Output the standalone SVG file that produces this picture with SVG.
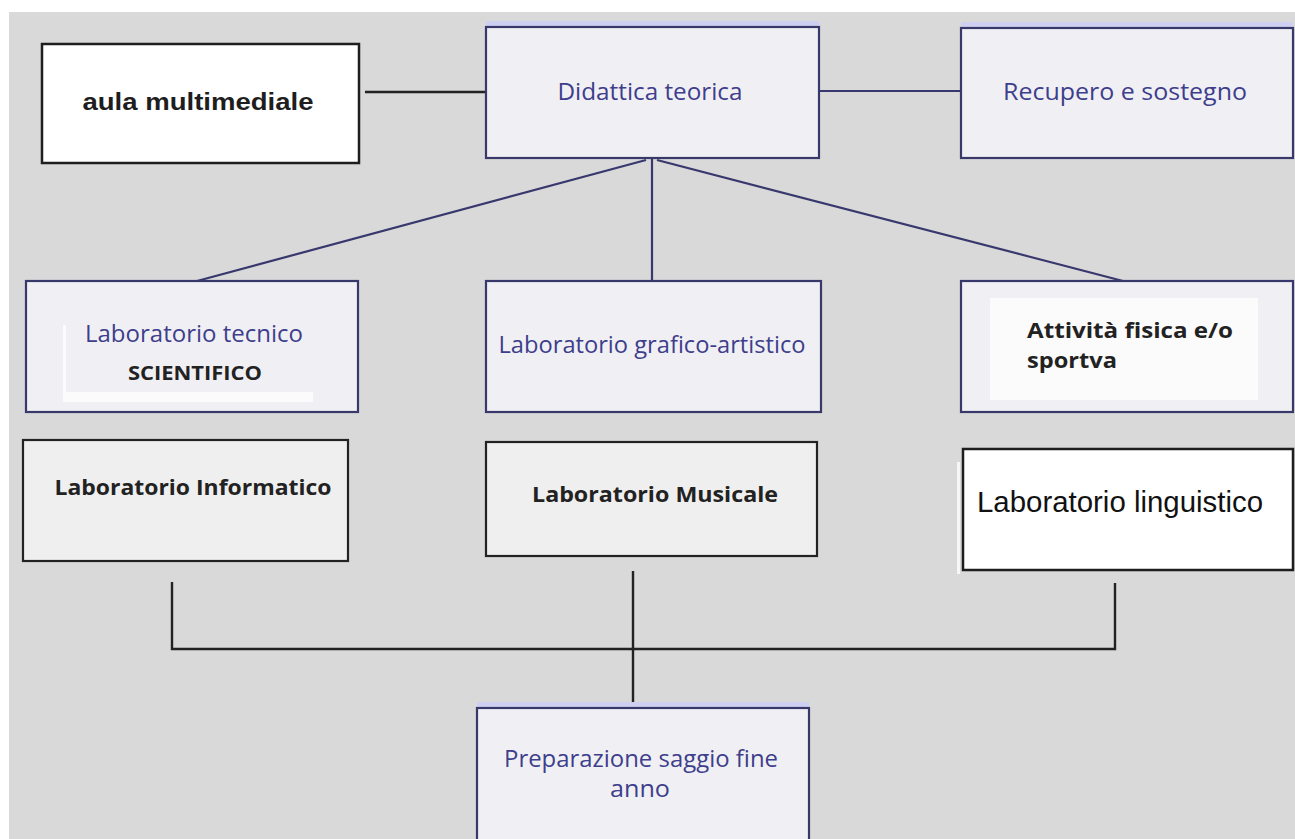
<svg xmlns="http://www.w3.org/2000/svg" width="1295" height="839" viewBox="0 0 1295 839">
<style>
.bg{fill:#d9d9d9}
.bn{fill:#f0f0f4;stroke:#38386a;stroke-width:2.2}
.glow{fill:none;stroke:#cfcff2;stroke-width:6}
.bk{fill:#efefef;stroke:#222;stroke-width:2.2}
.bw{fill:#fff;stroke:#1e1e1e;stroke-width:2.5}
.tb{font-family:"Open Sans","DejaVu Sans",sans-serif;font-size:24px;fill:#3e3e8c;text-anchor:middle}
.td{font-family:"Open Sans","DejaVu Sans",sans-serif;font-weight:bold;font-size:21px;fill:#222;text-anchor:middle}
.tds{font-family:"Open Sans","DejaVu Sans",sans-serif;font-weight:bold;font-size:22px;fill:#222;text-anchor:start}
.tsc{font-family:"Open Sans","DejaVu Sans",sans-serif;font-weight:bold;font-size:19px;fill:#222;text-anchor:middle}
.ta{font-family:"Liberation Sans",Arial,sans-serif;font-weight:bold;font-size:23px;fill:#1e1e1e;text-anchor:middle}
.tn{font-family:"Liberation Sans",Arial,sans-serif;font-size:30px;fill:#111;text-anchor:middle}
.cn{fill:none;stroke:#38386e;stroke-width:2.2}
.ck{fill:none;stroke:#222;stroke-width:2.4}
</style>
<rect x="0" y="0" width="1295" height="839" fill="#fff"/>
<rect class="bg" x="9" y="12" width="1286" height="827"/>
<g id="connectors">
<line class="ck" x1="365" y1="92" x2="486" y2="92"/>
<line class="cn" x1="819" y1="91" x2="961" y2="91"/>
<line class="cn" x1="646" y1="160" x2="197" y2="281"/>
<line class="cn" x1="652" y1="158" x2="652" y2="281"/>
<line class="cn" x1="657" y1="160" x2="1123" y2="281"/>
<polyline class="ck" points="172,582 172,649 1115,649 1115,583"/>
<line class="ck" x1="633" y1="571" x2="633" y2="708"/>
</g>
<g id="aula">
<rect class="bw" x="42" y="44" width="317" height="119"/>
<text class="ta" x="198" y="110" textLength="231" lengthAdjust="spacingAndGlyphs">aula multimediale</text>
</g>
<g id="didattica">
<line class="glow" x1="486" y1="24" x2="819" y2="24"/>
<rect class="bn" x="486" y="27" width="333" height="131"/>
<text class="tb" x="650" y="100" textLength="185" lengthAdjust="spacingAndGlyphs">Didattica teorica</text>
</g>
<g id="recupero">
<line class="glow" x1="961" y1="25" x2="1293" y2="25"/>
<rect class="bn" x="961" y="28" width="332" height="130"/>
<text class="tb" x="1125" y="100" textLength="244" lengthAdjust="spacingAndGlyphs">Recupero e sostegno</text>
</g>
<g id="lab-tecnico">
<rect class="bn" x="26" y="281" width="332" height="131"/>
<rect x="63" y="392" width="250" height="10" fill="#fbfbfb"/>
<rect x="63" y="325" width="3" height="77" fill="#fbfbfb"/>
<text class="tb" x="194" y="342" textLength="218" lengthAdjust="spacingAndGlyphs">Laboratorio tecnico</text>
<text class="tsc" x="195" y="380" textLength="134" lengthAdjust="spacingAndGlyphs">SCIENTIFICO</text>
</g>
<g id="lab-grafico">
<rect class="bn" x="486" y="281" width="335" height="131"/>
<text class="tb" x="652" y="353" textLength="307" lengthAdjust="spacingAndGlyphs">Laboratorio grafico-artistico</text>
</g>
<g id="attivita">
<rect class="bn" x="961" y="281" width="332" height="131"/>
<rect x="990" y="298" width="268" height="102" fill="#fbfbfb"/>
<text class="tds" x="1027" y="338" textLength="206" lengthAdjust="spacingAndGlyphs">Attività fisica e/o</text>
<text class="tds" x="1027" y="368" textLength="90" lengthAdjust="spacingAndGlyphs">sportva</text>
</g>
<g id="lab-informatico">
<rect class="bk" x="23" y="440" width="325" height="121"/>
<text class="td" x="193" y="495" textLength="277" lengthAdjust="spacingAndGlyphs">Laboratorio Informatico</text>
</g>
<g id="lab-musicale">
<rect class="bk" x="486" y="442" width="331" height="114"/>
<text class="td" x="655" y="502" textLength="246" lengthAdjust="spacingAndGlyphs">Laboratorio Musicale</text>
</g>
<g id="lab-linguistico">
<rect x="957" y="462" width="3" height="112" fill="#f7f7f7"/>
<rect class="bw" x="963" y="449" width="330" height="121"/>
<text class="tn" x="1120" y="512" textLength="286" lengthAdjust="spacingAndGlyphs">Laboratorio linguistico</text>
</g>
<g id="preparazione">
<line class="glow" x1="477" y1="705" x2="809" y2="705"/>
<rect class="bn" x="477" y="708" width="332" height="140"/>
<text class="tb" x="641" y="767" textLength="274" lengthAdjust="spacingAndGlyphs">Preparazione saggio fine</text>
<text class="tb" x="640" y="797" textLength="60" lengthAdjust="spacingAndGlyphs">anno</text>
</g>
</svg>
